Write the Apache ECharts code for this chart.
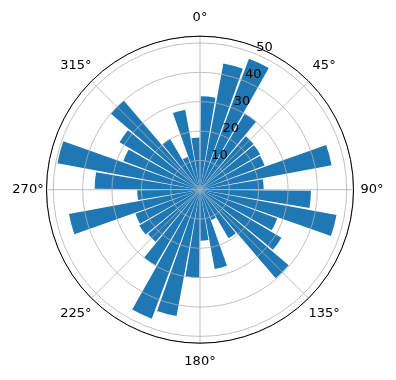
<!DOCTYPE html>
<html>
<head>
<meta charset="utf-8">
<script src="https://cdn.jsdelivr.net/npm/echarts@6/dist/echarts.min.js"></script>
<style>
  html, body { margin: 0; padding: 0; background: #ffffff; }
  #chart { width: 396px; height: 380px; }
</style>
</head>
<body>
<div id="chart"></div>
<script>
// Sector centres (degrees, clockwise from north) and bar lengths
const sectorCenters = [5, 15, 25, 35, 45, 55, 65, 75, 85,
                       95, 105, 115, 125, 135, 145, 155, 165, 175,
                       185, 195, 205, 215, 225, 235, 245, 255, 265,
                       275, 285, 295, 305, 315, 325, 335, 345, 355];
const barValues = [31.8, 43.7, 47.6, 30.1, 24.0, 23.8, 23.5, 45.6, 21.7,
                   37.8, 47.3, 28.1, 32.2, 39.7, 19.2, 11.0, 27.5, 17.4,
                   30.0, 43.8, 46.9, 29.9, 23.3, 24.0, 23.5, 45.4, 21.4,
                   35.9, 49.4, 27.9, 31.8, 39.9, 20.1, 11.9, 27.7, 17.8];
const angleTicks = [0, 45, 90, 135, 180, 225, 270, 315];
const radiusTicks = [10, 20, 30, 40, 50];
const radiusMax = 52.3;

const FONT = 'DejaVu Sans';
const FS = 13;
const center = [200, 189.7];
const R = 153.5;

const chart = echarts.init(document.getElementById('chart'), null, { renderer: 'canvas' });

const option = {
  backgroundColor: '#ffffff',
  animation: false,
  polar: [
    { center: center, radius: R },   // grid + angle labels
    { center: center, radius: R },   // bars
    { center: center, radius: R }    // radial tick labels at 22.5°
  ],
  angleAxis: [
    {
      polarIndex: 0, type: 'value', min: 0, max: 360, interval: 45,
      startAngle: 90, clockwise: true, z: 10,
      axisLine: { show: true, lineStyle: { color: '#000000', width: 1 } },
      axisTick: { show: false },
      splitLine: { show: true, lineStyle: { color: '#b0b0b0', width: 0.8 } },
      axisLabel: {
        show: true, margin: 10,
        formatter: function (v) { return angleTicks.indexOf(v) >= 0 ? '{a|' + v + '°}' : ''; },
        rich: { a: { width: 17, lineHeight: 17, align: 'center', verticalAlign: 'middle',
                     fontSize: FS, fontFamily: FONT, color: '#000000' } }
      }
    },
    {
      polarIndex: 1, type: 'category', data: sectorCenters.map(String),
      startAngle: 90, clockwise: true, boundaryGap: true, show: false
    },
    {
      polarIndex: 2, type: 'value', min: 0, max: 360, startAngle: 67.5, clockwise: true, show: false
    }
  ],
  radiusAxis: [
    {
      polarIndex: 0, type: 'value', min: 0, max: radiusMax, interval: 10, z: 10,
      axisLine: { show: false }, axisTick: { show: false }, axisLabel: { show: false },
      splitLine: { show: true, lineStyle: { color: '#b0b0b0', width: 0.8 } }
    },
    {
      polarIndex: 1, type: 'value', min: 0, max: radiusMax, show: false
    },
    {
      polarIndex: 2, type: 'value', min: 0, max: radiusMax, interval: 10, z: 11,
      axisLine: { show: false }, axisTick: { show: false }, splitLine: { show: false },
      axisLabel: {
        show: true, margin: 0, align: 'left', verticalAlign: 'bottom',
        showMinLabel: false, showMaxLabel: false,
        formatter: function (v) { return radiusTicks.indexOf(v) >= 0 ? String(v) : ''; },
        fontSize: FS, fontFamily: FONT, color: '#000000'
      }
    }
  ],
  series: [
    {
      type: 'bar', coordinateSystem: 'polar', polarIndex: 1,
      data: barValues, barWidth: '90%', z: 2,
      itemStyle: { color: '#1f77b4' }
    }
  ]
};
chart.setOption(option);
</script>
</body>
</html>
